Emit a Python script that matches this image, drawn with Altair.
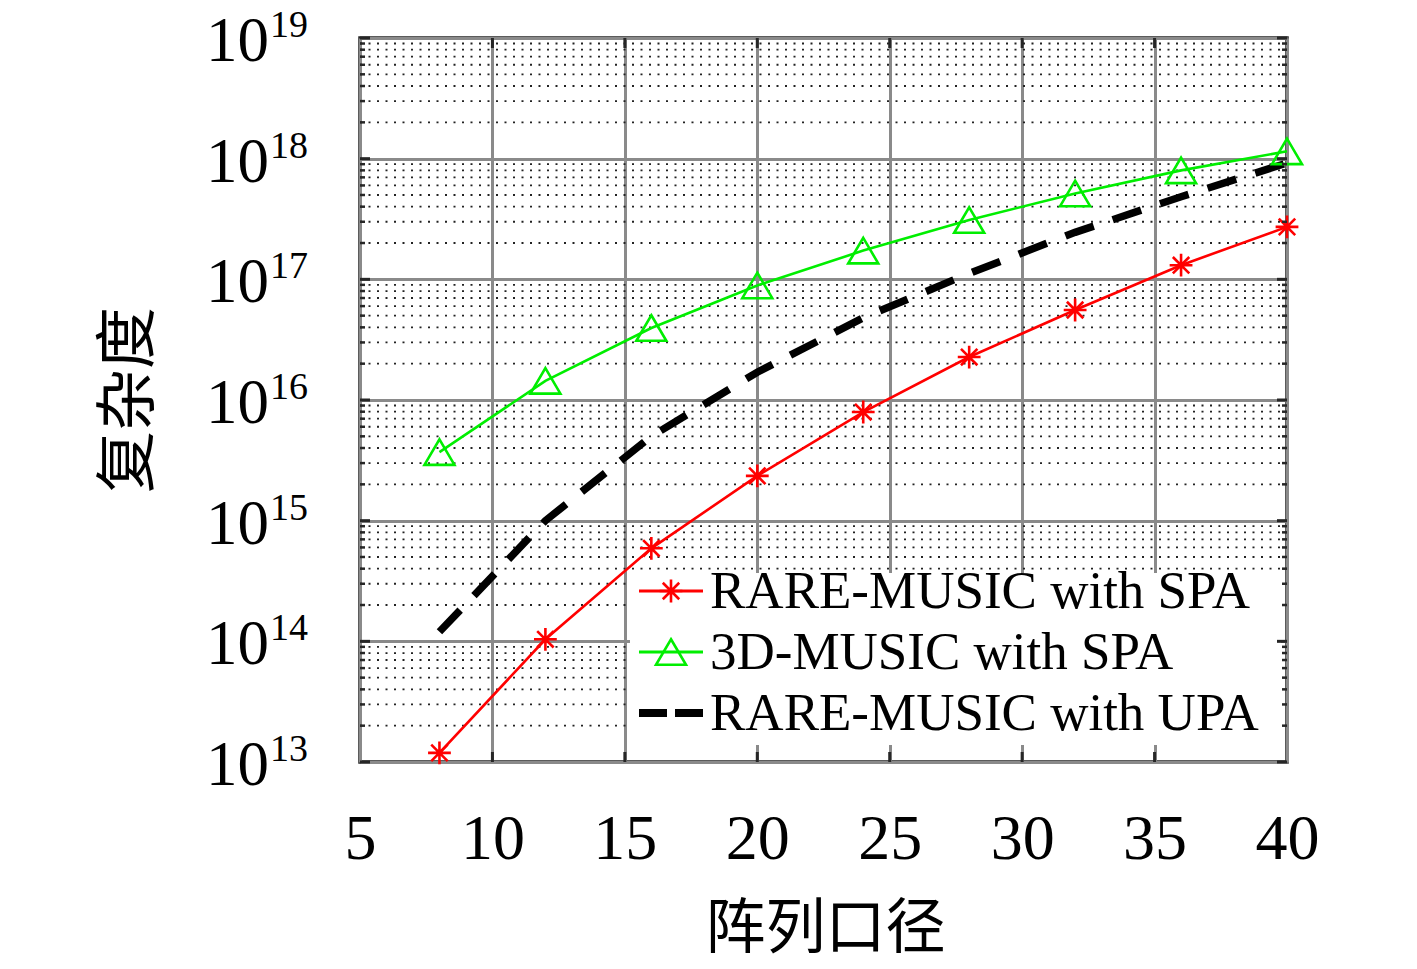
import altair as alt
import pandas as pd

# ---------------- data ----------------
x_vals = [8, 12, 16, 20, 24, 28, 32, 36, 40]
rare_spa = [1.19e13, 1.04e14, 5.9e14, 2.35e15, 7.95e15, 2.27e16, 5.57e16, 1.31e17, 2.72e17]
music3d_spa = [3.7e15, 1.44e16, 3.95e16, 8.9e16, 1.73e17, 3.1e17, 5.15e17, 8.0e17, 1.15e18]
rare_upa = [1.2e14, 1.0e15, 5.0e15, 1.7e16, 4.8e16, 1.12e17, 2.45e17, 4.84e17, 9.2e17]
series_names = ["RARE-MUSIC with SPA", "3D-MUSIC with SPA", "RARE-MUSIC with UPA"]
x_ticks = [5, 10, 15, 20, 25, 30, 35, 40]
y_exponents = [13, 14, 15, 16, 17, 18, 19]
minor_mult = [2, 3, 4, 5, 6, 7, 8, 9]
x_title = "阵列口径"
y_title = "复杂度"

# ---------------- style ----------------
W, H = 927, 724
SERIF = "Liberation Serif"
CJK = "Noto Sans CJK SC"
RED, GREEN, BLACK = "#ff0000", "#00ee00", "#000000"
FRAME = "#262626"
GRID = "#8a8a8a"
ASTERISK = "M0,-1L0,1M-1,0L1,0M-0.72,-0.72L0.72,0.72M-0.72,0.72L0.72,-0.72"
TRIANGLE = "M0,-0.85L1,0.85L-1,0.85Z"

xs = alt.Scale(domain=[5, 40], nice=False, zero=False)
ys = alt.Scale(type="log", domain=[1e13, 1e19], nice=False)

df = pd.DataFrame({"x": x_vals, "rare_spa": rare_spa, "music3d": music3d_spa, "rare_upa": rare_upa})
major_y = [10.0 ** e for e in y_exponents]
minor_y = [m * 10.0 ** e for e in y_exponents[:-1] for m in minor_mult]
df_major_y = pd.DataFrame({"v": major_y})
df_minor_y = pd.DataFrame({"v": minor_y})
df_xt = pd.DataFrame({"v": x_ticks[1:-1]})
df_ylab = pd.DataFrame({"v": major_y, "base": ["10"] * len(major_y), "exp": [str(e) for e in y_exponents]})

AX = alt.Axis(values=x_ticks, grid=True, gridColor=GRID, gridWidth=3, ticks=False, tickSize=0,
              domain=False, labelFont=SERIF, labelFontSize=64, labelColor="#000000",
              labelBaseline="alphabetic", labelPadding=96, labelFlush=False, labelOverlap=False, title=None)
AY = alt.Axis(values=major_y, grid=True, gridColor=GRID, gridWidth=3, ticks=False, tickSize=0,
              domain=False, labels=False, title=None)


def X(f):
    return alt.X(f, scale=xs, axis=AX)


def Y(f):
    return alt.Y(f, scale=ys, axis=AY)


# minor dotted grid
minor_grid = alt.Chart(df_minor_y).mark_rule(color="#222222", strokeWidth=1.8, strokeDash=[2, 6.5]).encode(
    y=Y("v:Q"), x=alt.value(0), x2=alt.value(W)
)

red_line = alt.Chart(df).mark_line(color=RED, strokeWidth=2.6).encode(x=X("x:Q"), y=Y("rare_spa:Q"))
green_line = alt.Chart(df).mark_line(color=GREEN, strokeWidth=2.6).encode(x=X("x:Q"), y=Y("music3d:Q"))
black_line = alt.Chart(df).mark_line(color=BLACK, strokeWidth=7.5, strokeDash=[30, 20], strokeCap="butt").encode(
    x=X("x:Q"), y=Y("rare_upa:Q"))
red_pts = alt.Chart(df).mark_point(shape=ASTERISK, size=520, color=RED, strokeWidth=2.6, filled=False, opacity=1).encode(
    x=X("x:Q"), y=Y("rare_spa:Q"))
green_pts = alt.Chart(df).mark_point(shape=TRIANGLE, size=900, color=GREEN, strokeWidth=2.6, filled=False, opacity=1).encode(
    x=X("x:Q"), y=Y("music3d:Q"))

# legend
one = pd.DataFrame({"a": [0]})
leg_rows = [553, 614, 675]
leg_layers = [
    alt.Chart(one).mark_rect(color="white").encode(
        x=alt.value(270), x2=alt.value(921), y=alt.value(535), y2=alt.value(707)),
    alt.Chart(one).mark_rule(color=RED, strokeWidth=3).encode(
        x=alt.value(279), x2=alt.value(343), y=alt.value(leg_rows[0])),
    alt.Chart(one).mark_point(shape=ASTERISK, size=520, color=RED, strokeWidth=2.6, opacity=1).encode(
        x=alt.value(311), y=alt.value(leg_rows[0])),
    alt.Chart(one).mark_rule(color=GREEN, strokeWidth=3).encode(
        x=alt.value(279), x2=alt.value(343), y=alt.value(leg_rows[1])),
    alt.Chart(one).mark_point(shape=TRIANGLE, size=900, color=GREEN, strokeWidth=2.6, opacity=1).encode(
        x=alt.value(311), y=alt.value(leg_rows[1])),
    alt.Chart(one).mark_rule(color=BLACK, strokeWidth=8, strokeDash=[28, 8], strokeCap="butt").encode(
        x=alt.value(279), x2=alt.value(343), y=alt.value(leg_rows[2])),
]
for name, ry in zip(series_names, leg_rows):
    leg_layers.append(alt.Chart(pd.DataFrame({"t": [name]})).mark_text(
        font=SERIF, fontSize=53, align="left", baseline="alphabetic", color="black").encode(
        text="t:N", x=alt.value(350), y=alt.value(ry + 17)))

# inner ticks (box style)
tick_style = dict(color=FRAME, strokeWidth=3)
ticks = [
    alt.Chart(df_xt).mark_rule(**tick_style).encode(x=X("v:Q"), y=alt.value(H), y2=alt.value(H - 10)),
    alt.Chart(df_xt).mark_rule(**tick_style).encode(x=X("v:Q"), y=alt.value(0), y2=alt.value(10)),
    alt.Chart(df_major_y).mark_rule(**tick_style).encode(y=Y("v:Q"), x=alt.value(0), x2=alt.value(10)),
    alt.Chart(df_major_y).mark_rule(**tick_style).encode(y=Y("v:Q"), x=alt.value(W - 10), x2=alt.value(W)),
    alt.Chart(df_minor_y).mark_rule(color=FRAME, strokeWidth=2.5).encode(y=Y("v:Q"), x=alt.value(0), x2=alt.value(5)),
    alt.Chart(df_minor_y).mark_rule(color=FRAME, strokeWidth=2.5).encode(y=Y("v:Q"), x=alt.value(W - 5), x2=alt.value(W)),
]

# y tick labels 10^e
ylab_base = alt.Chart(df_ylab).mark_text(font=SERIF, fontSize=63, align="right", baseline="alphabetic", dy=23, color="black").encode(
    y=Y("v:Q"), x=alt.value(-91), text="base:N")
ylab_exp = alt.Chart(df_ylab).mark_text(font=SERIF, fontSize=38, align="left", baseline="alphabetic", dy=-1, color="black").encode(
    y=Y("v:Q"), x=alt.value(-90), text="exp:N")

# titles
xt = alt.Chart(pd.DataFrame({"t": [x_title]})).mark_text(font=CJK, fontSize=60, align="center", baseline="middle", color="black").encode(
    text="t:N", x=alt.value(W / 2 + 2), y=alt.value(892))
yt = alt.Chart(pd.DataFrame({"t": [y_title]})).mark_text(font=CJK, fontSize=62, align="center", baseline="middle", angle=270, color="black").encode(
    text="t:N", x=alt.value(-230), y=alt.value(362))

chart = alt.layer(
    minor_grid, red_line, green_line, black_line, red_pts, green_pts,
    *leg_layers, *ticks, ylab_base, ylab_exp, xt, yt
).properties(
    width=W, height=H,
    autosize=alt.AutoSizeParams(type="none"),
    padding={"left": 352, "top": 30, "right": 110, "bottom": 200},
).configure(background="white").configure_view(stroke=FRAME, strokeWidth=3.5)

chart.save("out.html", embed_options={"renderer": "svg", "actions": False})
